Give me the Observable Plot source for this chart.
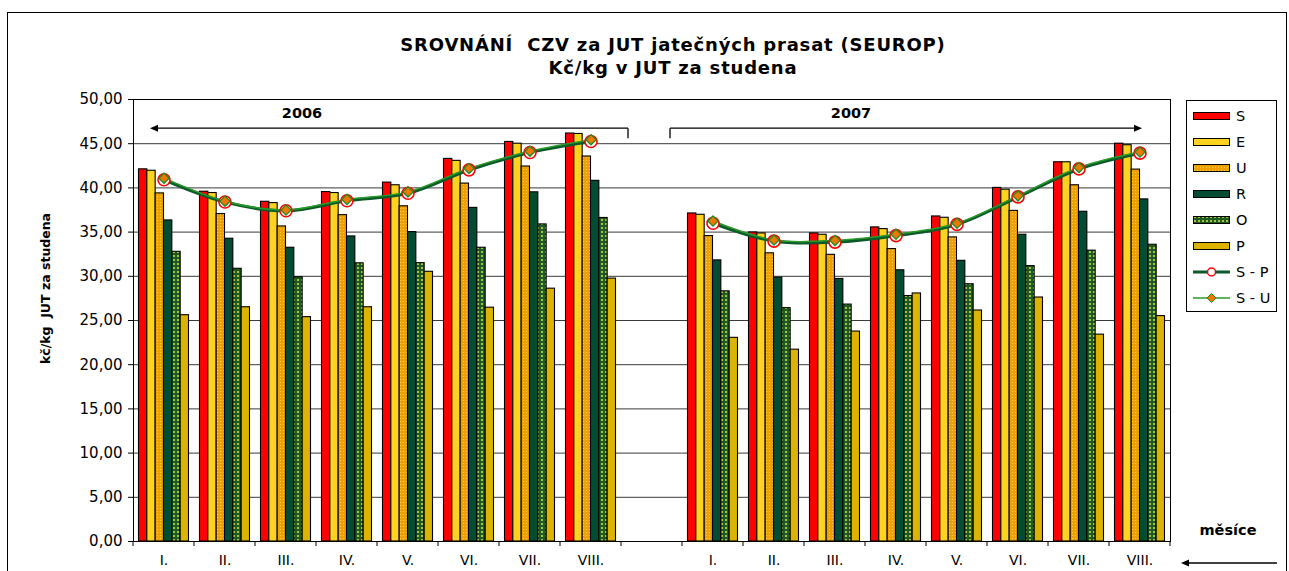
<!DOCTYPE html>
<html><head><meta charset="utf-8">
<script src="https://cdn.jsdelivr.net/npm/d3@7"></script>
<script src="https://cdn.jsdelivr.net/npm/@observablehq/plot@0.6"></script>
<style>
body{margin:0;background:#fff;font-family:"DejaVu Sans",Verdana,sans-serif;}
#wrap{position:relative;width:1289px;height:571px;overflow:hidden;background:#fff;}
#frame{position:absolute;left:7px;top:12px;width:1280px;height:700px;border:1px solid #000;box-sizing:border-box;}
#title{position:absolute;left:273px;width:800px;top:33px;text-align:center;font-weight:bold;font-size:18px;letter-spacing:0.8px;line-height:23px;color:#000;}
#chart{position:absolute;left:0;top:90px;}
#legend{position:absolute;left:1186px;top:100px;width:91px;height:212px;border:1px solid #000;box-sizing:border-box;background:#fff;padding-top:2px;}
.row{height:26px;display:flex;align-items:center;padding-left:6px;font-size:14.5px;}
.row svg{margin-right:6px;flex:none;}
</style></head>
<body>
<div id="wrap">
  <div id="frame"></div>
  <div id="title">SROVNÁNÍ&nbsp; CZV za JUT jatečných prasat (SEUROP)<br>Kč/kg v JUT za studena</div>
  <div id="chart"></div>
  <div id="legend"></div>
</div>
<script>
// ---- data ----
const months = ["I.","II.","III.","IV.","V.","VI.","VII.","VIII."];
const years = ["2006","2007"];
const seriesNames = ["S","E","U","R","O","P"];
const S  = [42.10,39.57,38.43,39.53,40.60,43.28,45.20,46.15, 37.11,34.96,34.85,35.53,36.77,40.00,42.90,45.00];
const E  = [41.94,39.42,38.28,39.42,40.30,43.06,45.00,46.10, 36.96,34.85,34.70,35.34,36.62,39.80,42.90,44.83];
const U  = [39.38,37.04,35.64,36.92,37.92,40.49,42.42,43.55, 34.55,32.60,32.43,33.08,34.40,37.40,40.30,42.07];
const R  = [36.32,34.25,33.23,34.51,35.00,37.74,39.50,40.80, 31.80,29.85,29.70,30.68,31.75,34.70,37.30,38.70];
const O  = [32.77,30.85,29.90,31.47,31.49,33.23,35.87,36.60, 28.30,26.40,26.80,27.77,29.10,31.15,32.90,33.57];
const P  = [25.60,26.50,25.38,26.50,30.51,26.45,28.60,29.74, 23.04,21.70,23.75,28.06,26.13,27.60,23.40,25.50];
const SP = [40.92,38.40,37.42,38.55,39.40,42.04,44.00,45.25, 36.00,33.98,33.87,34.60,35.87,38.98,42.15,43.93];
const SU = [41.10,38.50,37.50,38.70,39.55,42.20,44.15,45.45, 36.25,34.10,34.06,34.75,36.00,39.10,42.30,44.05];
const yTicks = [0,5,10,15,20,25,30,35,40,45,50];
const yearLabels = ["2006","2007"];
const yTitle = "kč/kg  JUT za studena";
const xTitle = "měsíce";
const lineNames = ["S - P","S - U"];

// ---- styles ----
const colors = {S:"#ff0000", E:"#ffd21f", U:"url(#patU)", R:"#034c33", O:"url(#patO)", P:"#dcb400"};
const spStroke = "#0b5a2a", suStroke = "#2a9a2a";

// ---- table ----
const seriesVals = {S,E,U,R,O,P};
const gapKey = "gap";
const keys = [];
const rows = [];
years.forEach((y, yi) => {
  months.forEach((m, mi) => {
    const i = yi*months.length + mi;
    const key = y + "|" + m;
    keys.push(key);
    const r = {key, year:y, SP:SP[i], SU:SU[i]};
    seriesNames.forEach(s => r[s] = seriesVals[s][i]);
    rows.push(r);
  });
  if (yi === 0) keys.push(gapKey);
});

const W = 1289, H = 481, ml = 133, mr = 119, mt = 9, mb = 30;
const bw = (W - ml - mr) / keys.length;
const groupW = 50, pad = (bw - groupW) / 2, barW = groupW / seriesNames.length;

const bars = seriesNames.map((s, i) => Plot.barY(rows, {
  x: "key", y: s, fill: colors[s], stroke: "#000", strokeWidth: 1.1,
  insetLeft: pad + i*barW, insetRight: bw - pad - (i+1)*barW
}));

const plot = Plot.plot({
  width: W, height: H,
  marginLeft: ml, marginRight: mr, marginTop: mt, marginBottom: mb,
  style: {fontFamily: "DejaVu Sans, Verdana, sans-serif", fontSize: "15px", background: "transparent", color:"#000"},
  x: {type: "band", domain: keys, padding: 0},
  y: {domain: [0, 50]},
  marks: [
    Plot.ruleY(yTicks.filter(d => d > 0), {stroke: "#3a3a3a", strokeWidth: 1}),
    ...bars,
    Plot.line(rows, {x: "key", y: "SP", z: "year", stroke: spStroke, strokeWidth: 3.2, curve: "catmull-rom"}),
    Plot.line(rows, {x: "key", y: "SU", z: "year", stroke: suStroke, strokeWidth: 1.5, curve: "catmull-rom"}),
    Plot.dot(rows, {x: "key", y: "SP", r: 6, stroke: "#ff0000", fill: "#fff", strokeWidth: 1.6}),
    Plot.dot(rows, {x: "key", y: "SU", symbol: "diamond2", r: 4.6, fill: "#f07800", stroke: "#1e8c1e", strokeWidth: 1.3}),
    Plot.frame({stroke: "#000"}),
    Plot.axisY({ticks: yTicks, tickFormat: d => d.toFixed(2).replace(".", ","), tickSize: 5, tickPadding: 6, label: null, fontSize: 15}),
    Plot.axisX({tickSize: 0, tickPadding: 14, tickFormat: k => k === gapKey ? "" : k.split("|")[1], label: null, fontSize: 14}),
    Plot.text([yTitle], {frameAnchor: "left", textAnchor: "middle", rotate: -90, dx: -88, dy: -32, fontWeight: "bold", fontSize: 12.5}),
    Plot.text(yearLabels, {x: d => d + "|III.", y: 48.4, text: d => d, dx: 16, fontWeight: "bold", fontSize: 14.5})
  ]
});

// patterns
const svg = d3.select(plot);
const defs = svg.insert("defs", ":first-child");
const pu = defs.append("pattern").attr("id","patU").attr("width",3).attr("height",3).attr("patternUnits","userSpaceOnUse");
pu.append("rect").attr("width",3).attr("height",3).attr("fill","#f0a000");
pu.append("rect").attr("x",1).attr("y",1).attr("width",1).attr("height",1).attr("fill","#ffcf55");
const po = defs.append("pattern").attr("id","patO").attr("width",4).attr("height",4).attr("patternUnits","userSpaceOnUse");
po.append("rect").attr("width",4).attr("height",4).attr("fill","#1f5a22");
po.append("rect").attr("x",1).attr("y",1).attr("width",2).attr("height",2).attr("fill","#a9c23a");

// annotations using the plot's scales
const xs = plot.scale("x"), ys = plot.scale("y");
const g = svg.append("g").attr("stroke","#000").attr("fill","none");
const x0 = xs.apply(keys[0]);
// category boundary ticks
for (let i = 0; i <= keys.length; i++) {
  const x = x0 + i*bw;
  g.append("line").attr("x1",x).attr("x2",x).attr("y1",ys.apply(0)).attr("y2",ys.apply(0)+5);
}
const yA = ys.apply(46.7), yB = yA + 10;
// 2006 arrow (points left)
const a1L = xs.apply("2006|I.") + 17, a1R = xs.apply(gapKey) + 7;
g.append("line").attr("x1",a1L+6).attr("x2",a1R).attr("y1",yA).attr("y2",yA).attr("stroke-width",1.3);
g.append("line").attr("x1",a1R).attr("x2",a1R).attr("y1",yA).attr("y2",yB).attr("stroke-width",1.3);
g.append("path").attr("d",`M${a1L},${yA}l8,-3.5v7z`).attr("fill","#000").attr("stroke","none");
// 2007 arrow (points right)
const a2L = xs.apply("2007|I.") - 12, a2R = xs.apply("2007|VIII.") + bw - 28;
g.append("line").attr("x1",a2L).attr("x2",a2R-6).attr("y1",yA).attr("y2",yA).attr("stroke-width",1.3);
g.append("line").attr("x1",a2L).attr("x2",a2L).attr("y1",yA).attr("y2",yB).attr("stroke-width",1.3);
g.append("path").attr("d",`M${a2R},${yA}l-8,-3.5v7z`).attr("fill","#000").attr("stroke","none");
// "měsíce" label + arrow in the right margin
const xr = W - mr;
svg.append("text").attr("x", xr + 58).attr("y", ys.apply(0) - 6).attr("text-anchor","middle")
  .attr("font-weight","bold").attr("font-size",14.5).attr("fill","#000").text(xTitle);
g.append("line").attr("x1",xr+18).attr("x2",xr+107).attr("y1",ys.apply(0)+22).attr("y2",ys.apply(0)+22).attr("stroke-width",1.3);
g.append("path").attr("d",`M${xr+11},${ys.apply(0)+22}l8,-3.5v7z`).attr("fill","#000").attr("stroke","none");

document.getElementById("chart").appendChild(plot);

// ---- legend ----
const leg = document.getElementById("legend");
const legendColors = {S:"#ff0000", E:"#ffd21f", U:"url(#patU)", R:"#034c33", O:"url(#patO)", P:"#dcb400"};
seriesNames.forEach(s => {
  const row = document.createElement("div"); row.className = "row";
  row.innerHTML = `<svg width="37" height="10"><rect x="0.5" y="1.5" width="36" height="7" fill="${legendColors[s]}" stroke="#000"/></svg><span>${s}</span>`;
  leg.appendChild(row);
});
[
  {name: lineNames[0], mk: `<line x1="0" x2="37" y1="5" y2="5" stroke="${spStroke}" stroke-width="3"/><circle cx="18.5" cy="5" r="4" fill="#fff" stroke="#ff0000" stroke-width="1.5"/>`},
  {name: lineNames[1], mk: `<line x1="0" x2="37" y1="5" y2="5" stroke="${suStroke}" stroke-width="1.5"/><path d="M18.5,0.5l4.5,4.5l-4.5,4.5l-4.5,-4.5z" fill="#f07800" stroke="#1e8c1e" stroke-width="1"/>`}
].forEach(l => {
  const row = document.createElement("div"); row.className = "row";
  row.innerHTML = `<svg width="37" height="10">${l.mk}</svg><span>${l.name}</span>`;
  leg.appendChild(row);
});
</script>
</body></html>
